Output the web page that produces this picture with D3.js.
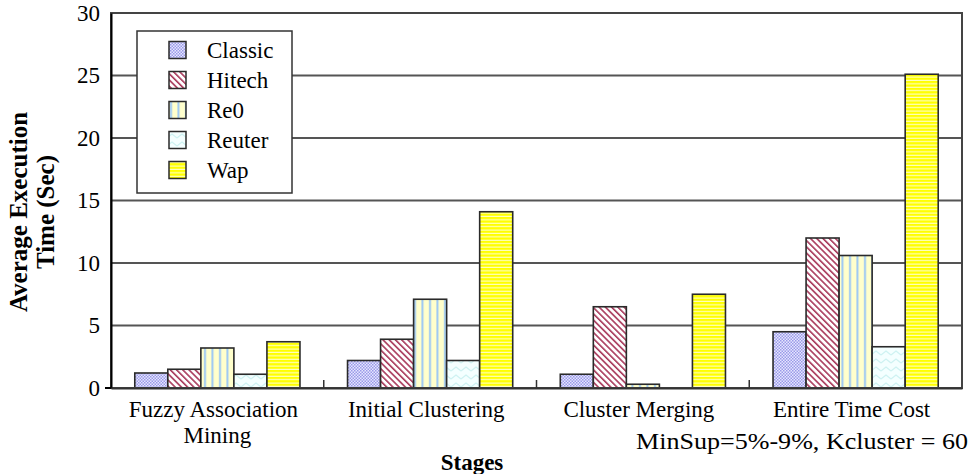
<!DOCTYPE html>
<html>
<head>
<meta charset="utf-8">
<script src="https://cdn.jsdelivr.net/npm/d3@7"></script>
<style>
  body { margin: 0; background: #fff; }
  svg { display: block; }
  text { font-family: "Liberation Serif", "Times New Roman", serif; fill: #000; }
</style>
</head>
<body>
<div id="viz-area"></div>
<script>
// chart data
const categories = ["Fuzzy Association Mining", "Initial Clustering", "Cluster Merging", "Entire Time Cost"];
const series     = ["Classic", "Hitech", "Re0", "Reuter", "Wap"];
const classic    = [1.2, 2.2, 1.1, 4.5];
const hitech     = [1.5, 3.9, 6.5, 12.0];
const re0        = [3.2, 7.1, 0.3, 10.6];
const reuter     = [1.1, 2.2, 0.0, 3.3];
const wap        = [3.7, 14.1, 7.5, 25.1];
const yTicks     = [0, 5, 10, 15, 20, 25, 30];

const values = [classic, hitech, re0, reuter, wap];

//MARGIN CONVENTION
var MARGIN = { LEFT: 111, RIGHT: 10, TOP: 13, BOTTOM: 86 }
var CANVAS = { WIDTH: 972 - MARGIN.LEFT - MARGIN.RIGHT,
               HEIGHT: 474 - MARGIN.TOP - MARGIN.BOTTOM }

const FONT = 23;

const svg = d3.select("#viz-area").append("svg")
  .attr("width", 972)
  .attr("height", 474)
const defs = svg.append("defs");
const plot = svg.append("g")
  .attr("transform", translate(MARGIN.LEFT, MARGIN.TOP))

makePatterns(defs);

const x = d3.scaleBand().domain(categories).range([0, CANVAS.WIDTH]).padding(0);
const x1 = d3.scaleBand().domain(series).range([0, x.bandwidth()])
  .paddingInner(0).paddingOuter(0.72);
const y = d3.scaleLinear().domain([0, 30]).range([CANVAS.HEIGHT, 0]);

// gridlines
plot.append("g")
  .selectAll("line")
  .data(yTicks.filter(t => t > 0 && t < 30))
  .enter().append("line")
  .attr("x1", 0).attr("x2", CANVAS.WIDTH)
  .attr("y1", d => y(d)).attr("y2", d => y(d))
  .attr("stroke", "#555").attr("stroke-width", 2);

// bars
let rows = [];
categories.forEach((c, i) => series.forEach((s, j) => rows.push({cat: c, ser: s, idx: j, v: values[j][i]})));

plot.append("g")
  .selectAll("rect")
  .data(rows.filter(d => d.v > 0))
  .enter().append("rect")
  .attr("x", d => x(d.cat) + x1(d.ser))
  .attr("y", d => y(d.v))
  .attr("width", x1.bandwidth())
  .attr("height", d => y(0) - y(d.v))
  .attr("fill", d => `url(#pat${d.idx})`)
  .attr("stroke", "#2a2a2a")
  .attr("stroke-width", 1.6);

// frame
plot.append("rect")
  .attr("x", 0).attr("y", 0)
  .attr("width", CANVAS.WIDTH).attr("height", CANVAS.HEIGHT)
  .attr("fill", "none").attr("stroke", "#444").attr("stroke-width", 2);

// y axis
let yAxis = d3.axisLeft(y).tickValues(yTicks).tickSize(0).tickPadding(11);
let gy = plot.append("g").call(yAxis);
gy.select(".domain").attr("stroke", "#000").attr("stroke-width", 2);
gy.selectAll("text").style("font-size", FONT + "px").attr("fill", "#000")
  .style("font-family", '"Liberation Serif", serif');
plot.append("line")
  .attr("x1", -6).attr("x2", 0).attr("y1", y(0)).attr("y2", y(0))
  .attr("stroke", "#000").attr("stroke-width", 2);

// x axis: baseline with inner ticks between groups
let xAxis = d3.axisBottom(x).tickSize(0).tickPadding(13);
let gx = plot.append("g").attr("transform", translate(0, CANVAS.HEIGHT)).call(xAxis);
gx.select(".domain").attr("stroke", "#333").attr("stroke-width", 2);
gx.selectAll("text")
  .style("font-size", FONT + "px")
  .style("font-family", '"Liberation Serif", serif')
  .attr("fill", "#000")
  .attr("dx", -4)
  .call(wrap, x.bandwidth() - 10);
gx.append("g").selectAll("line")
  .data(categories.slice(1))
  .enter().append("line")
  .attr("x1", d => x(d)).attr("x2", d => x(d))
  .attr("y1", 0).attr("y2", -8)
  .attr("stroke", "#333").attr("stroke-width", 1.5);

// legend
let legend = svg.append("g").attr("transform", translate(137, 31));
legend.append("rect")
  .attr("width", 155).attr("height", 162)
  .attr("fill", "#fff").attr("stroke", "#333").attr("stroke-width", 1.5);
let items = legend.selectAll(".item")
  .data(series)
  .enter().append("g")
  .attr("class", "item")
  .attr("transform", (d, i) => translate(0, 19 + i * 30));
items.append("rect")
  .attr("x", 32).attr("y", -8.5).attr("width", 17).attr("height", 17)
  .attr("fill", (d, i) => `url(#pat${i})`)
  .attr("stroke", "#2a2a2a").attr("stroke-width", 1.5);
items.append("text")
  .attr("x", 70).attr("dy", "0.35em")
  .style("font-size", FONT + "px")
  .text(d => d);

// axis titles
let ytitle = svg.append("text")
  .attr("transform", "translate(18,212) rotate(-90)")
  .attr("text-anchor", "middle")
  .style("font-size", "25px")
  .style("font-weight", "bold");
ytitle.append("tspan").attr("x", 0).attr("y", 0).attr("dy", "0.35em").text("Average Execution");
ytitle.append("tspan").attr("x", 0).attr("y", 27).attr("dy", "0.35em").text("Time (Sec)");

svg.append("text")
  .attr("x", 472).attr("y", 470)
  .attr("text-anchor", "middle")
  .style("font-size", FONT + "px")
  .style("font-weight", "bold")
  .text("Stages");

svg.append("text")
  .attr("x", 968).attr("y", 449)
  .attr("text-anchor", "end")
  .attr("textLength", 332)
  .attr("lengthAdjust", "spacingAndGlyphs")
  .style("font-size", FONT + "px")
  .text("MinSup=5%-9%, Kcluster = 60");

function makePatterns(defs) {
  // Classic: fine lavender checker
  let p0 = defs.append("pattern").attr("id", "pat0")
    .attr("patternUnits", "userSpaceOnUse").attr("width", 3).attr("height", 3);
  p0.append("rect").attr("width", 3).attr("height", 3).attr("fill", "#e6e6ff");
  p0.append("rect").attr("width", 1.5).attr("height", 1.5).attr("fill", "#9a9ae8");
  p0.append("rect").attr("x", 1.5).attr("y", 1.5).attr("width", 1.5).attr("height", 1.5).attr("fill", "#9a9ae8");

  // Hitech: dark red diagonal stripes
  let p1 = defs.append("pattern").attr("id", "pat1")
    .attr("patternUnits", "userSpaceOnUse").attr("width", 4.4).attr("height", 4.4)
    .attr("patternTransform", "rotate(-45)");
  p1.append("rect").attr("width", 4.4).attr("height", 4.4).attr("fill", "#fff");
  p1.append("rect").attr("width", 1.6).attr("height", 4.4).attr("fill", "#a8385a");

  // Re0: pale yellow with blue vertical lines
  let p2 = defs.append("pattern").attr("id", "pat2")
    .attr("patternUnits", "userSpaceOnUse").attr("width", 7.5).attr("height", 10);
  p2.append("rect").attr("width", 7.5).attr("height", 10).attr("fill", "#ffffcc");
  p2.append("rect").attr("x", 3).attr("width", 2).attr("height", 10).attr("fill", "#9cc8f4");

  // Reuter: very light cyan with faint zigzag
  let p3 = defs.append("pattern").attr("id", "pat3")
    .attr("patternUnits", "userSpaceOnUse").attr("width", 10).attr("height", 8);
  p3.append("rect").attr("width", 10).attr("height", 8).attr("fill", "#f4ffff");
  p3.append("path").attr("d", "M0,6 L5,2 L10,6").attr("fill", "none")
    .attr("stroke", "#cdf2f2").attr("stroke-width", 1.1);

  // Wap: yellow with thin white horizontal lines
  let p4 = defs.append("pattern").attr("id", "pat4")
    .attr("patternUnits", "userSpaceOnUse").attr("width", 10).attr("height", 3.4);
  p4.append("rect").attr("width", 10).attr("height", 3.4).attr("fill", "#ffff00");
  p4.append("rect").attr("y", 2.3).attr("width", 10).attr("height", 1.1).attr("fill", "#ffffc8");
}

function wrap(texts, width) {
  texts.each(function() {
    let text = d3.select(this);
    let words = text.text().split(/\s+/);
    let yy = text.attr("y");
    let dy = parseFloat(text.attr("dy"));
    let line = [];
    let lineNo = 0;
    let tspan = text.text(null).append("tspan").attr("x", 0).attr("y", yy).attr("dy", dy + "em");
    words.forEach(w => {
      line.push(w);
      tspan.text(line.join(" "));
      if (tspan.node().getComputedTextLength() > width && line.length > 1) {
        line.pop();
        tspan.text(line.join(" "));
        line = [w];
        tspan = text.append("tspan").attr("x", 0).attr("y", yy)
          .attr("dy", (++lineNo * 1.13 + dy) + "em").text(w);
      }
    });
  });
}

function translate(x, y) {
  return 'translate(' + String(x) + ',' + String(y) + ')';
}
</script>
</body>
</html>
